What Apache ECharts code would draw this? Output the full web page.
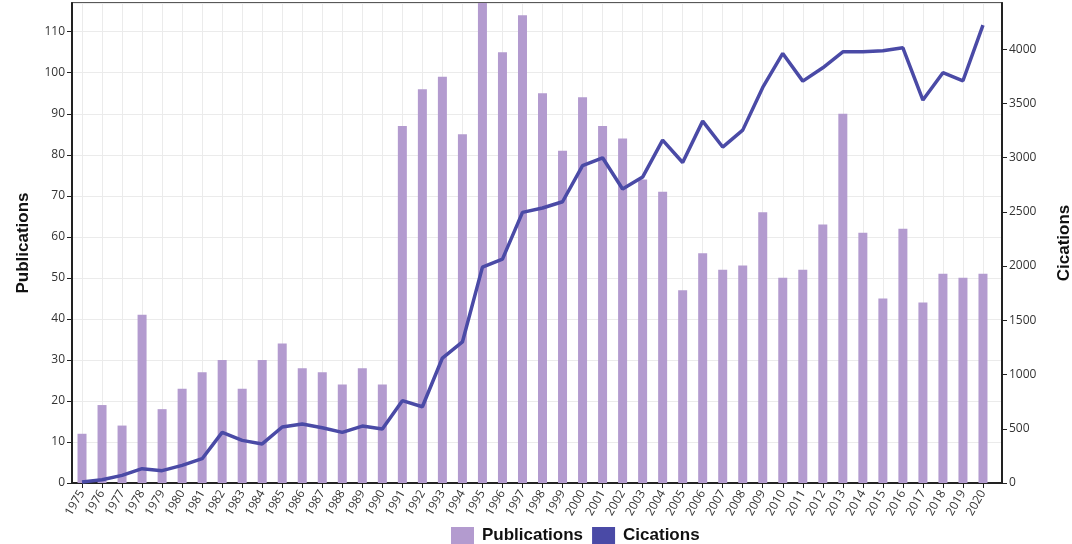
<!DOCTYPE html>
<html>
<head>
<meta charset="utf-8">
<script src="https://cdn.jsdelivr.net/npm/echarts@6/dist/echarts.min.js"></script>
<style>
html,body{margin:0;padding:0;background:#fff;}
#chart{width:1072px;height:544px;}
</style>
</head>
<body>
<div id="chart"></div>
<script>
const years = ['1975','1976','1977','1978','1979','1980','1981','1982','1983','1984','1985','1986','1987','1988','1989','1990','1991','1992','1993','1994','1995','1996','1997','1998','1999','2000','2001','2002','2003','2004','2005','2006','2007','2008','2009','2010','2011','2012','2013','2014','2015','2016','2017','2018','2019','2020'];
const publications = [12,19,14,41,18,23,27,30,23,30,34,28,27,24,28,24,87,96,99,85,118,105,114,95,81,94,87,84,74,71,47,56,52,53,66,50,52,63,90,61,45,62,44,51,50,51];
const citations = [10,30,70,132,114,163,224,467,393,360,516,544,510,467,525,498,759,703,1152,1300,1990,2064,2495,2535,2593,2925,2998,2710,2820,3161,2955,3336,3097,3253,3647,3960,3705,3828,3975,3975,3985,4012,3530,3782,3708,4221];
const leftTicks = {min:0, max:117, interval:10};
const rightTicks = {min:0, max:4425, interval:500};

const idx = years.map((y, i) => i);
const chart = echarts.init(document.getElementById('chart'));
const axisFont = {fontFamily:'"Open Sans", "DejaVu Sans", sans-serif', fontSize:12, color:'#333'};
const plain = v => String(v);
chart.setOption({
  animation:false,
  backgroundColor:'#fff',
  grid:{left:72,right:70,top:3,bottom:61,show:true,borderColor:'#222',borderWidth:1.5,containLabel:false,outerBoundsMode:'none'},
  legend:{
    left:446, top:522,
    itemWidth:23, itemHeight:17, itemGap:9,
    textStyle:{fontFamily:'"Liberation Sans", Arial, sans-serif', fontWeight:'bold', fontSize:17, color:'#111', padding:[0,0,0,3]},
    data:[{name:'Publications',icon:'rect'},{name:'Cications',icon:'rect'}]
  },
  xAxis:{
    type:'value', min:-0.5, max:45.95,
    axisLine:{onZero:false,lineStyle:{color:'#222',width:2}},
    axisTick:{show:true,customValues:idx,length:5,lineStyle:{color:'#222'}},
    axisLabel:Object.assign({rotate:60,margin:8,customValues:idx,formatter:v => years[Math.round(v)] || ''}, axisFont),
    splitLine:{show:true,customValues:idx,lineStyle:{color:'#ebebeb'}}
  },
  yAxis:[
    {type:'value', min:leftTicks.min, max:leftTicks.max, interval:leftTicks.interval,
     name:'Publications', nameLocation:'middle', nameGap:40,
     nameTextStyle:{fontFamily:'"Liberation Sans", Arial, sans-serif', fontWeight:'bold', fontSize:17, color:'#111'},
     axisLine:{show:true,onZero:false,lineStyle:{color:'#222',width:2}},
     axisTick:{show:true,length:5,lineStyle:{color:'#222'}},
     axisLabel:Object.assign({margin:7, showMaxLabel:false, formatter:plain}, axisFont),
     splitLine:{show:true,lineStyle:{color:'#ebebeb'}}},
    {type:'value', min:rightTicks.min, max:rightTicks.max, interval:rightTicks.interval,
     name:'Cications', nameLocation:'middle', nameGap:54,
     nameTextStyle:{fontFamily:'"Liberation Sans", Arial, sans-serif', fontWeight:'bold', fontSize:17, color:'#111'},
     axisLine:{show:true,onZero:false,lineStyle:{color:'#222',width:2}},
     axisTick:{show:true,length:5,lineStyle:{color:'#222'}},
     axisLabel:Object.assign({margin:7, showMaxLabel:false, formatter:plain}, axisFont),
     splitLine:{show:false}}
  ],
  series:[
    {name:'Publications', type:'bar', data:publications.map((v, i) => [i, v]), yAxisIndex:0, barWidth:9, clip:true,
     itemStyle:{color:'#b39bcf'}},
    {name:'Cications', type:'line', data:citations.map((v, i) => [i, v]), yAxisIndex:1, showSymbol:false, symbol:'none',
     lineStyle:{color:'#4a4aa6',width:3.5}, itemStyle:{color:'#4a4aa6'}}
  ]
});
</script>
</body>
</html>
